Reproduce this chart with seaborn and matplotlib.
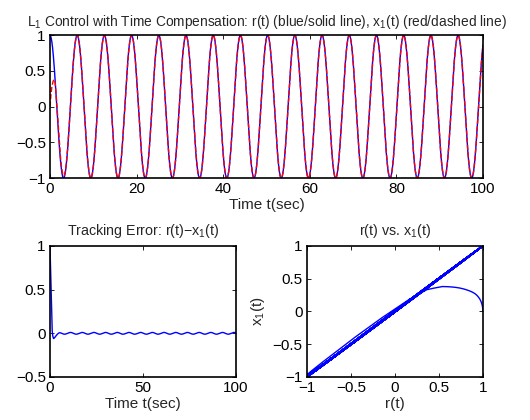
import matplotlib
matplotlib.use("Agg")
import matplotlib.pyplot as plt
import numpy as np
import pandas as pd
import seaborn as sns

# time grid of the simulation (s) and reference signal r(t) = cos(t)
t_end = 100.0
n_samples = 6001
ref_amp = 1.0
ref_omega = 1.0

err_t = [0.0, 0.2, 0.4, 0.6, 0.8, 1.0, 1.2, 1.4, 1.7, 2.0, 2.5, 3.0, 3.6, 4.2, 5.0]
err_v = [1.0, 0.83, 0.66, 0.50, 0.33, 0.16, 0.03, -0.02, -0.05, -0.06, -0.05, -0.035, -0.02, -0.008, 0.0]
ripple_amp = 0.01

t = np.linspace(0, t_end, n_samples)
r = ref_amp * np.cos(ref_omega * t)
err = np.interp(t, err_t, err_v) - ripple_amp * np.sin(t) * np.clip((t - 3.0) / 3.0, 0, 1)
x1 = r - err

df = pd.DataFrame({"t": t, "r": r, "x1": x1, "err": err})

sns.set_theme(style="ticks")
plt.rcParams["font.family"] = ["Liberation Sans", "DejaVu Sans"]
plt.rcParams["mathtext.default"] = "regular"
plt.rcParams["axes.unicode_minus"] = True
fs_tick = 11
fs_label = 11
fs_title = 10.3

fig = plt.figure(figsize=(5.3, 4.2), dpi=100)
ax1 = fig.add_axes([0.0943, 0.576, 0.817, 0.340])
ax2 = fig.add_axes([0.0943, 0.1024, 0.351, 0.312])
ax3 = fig.add_axes([0.579, 0.1024, 0.332, 0.312])

sns.lineplot(data=df, x="t", y="r", ax=ax1, color="blue", lw=1.0, estimator=None)
sns.lineplot(data=df, x="t", y="x1", ax=ax1, color="red", lw=1.0, estimator=None,
             dashes=False, linestyle="--")
ax1.set_xlim(0, 100)
ax1.set_ylim(-1, 1)
ax1.set_xticks(np.arange(0, 101, 20))
ax1.set_yticks([-1, -0.5, 0, 0.5, 1])
ax1.set_yticklabels(["−1", "−0.5", "0", "0.5", "1"])
ax1.set_xlabel("Time t(sec)", fontsize=fs_label, labelpad=1)
ax1.set_ylabel("")
ax1.set_title("L$_1$ Control with Time Compensation: r(t) (blue/solid line), "
              "x$_1$(t) (red/dashed line)", fontsize=9.9, pad=7)

sns.lineplot(data=df, x="t", y="err", ax=ax2, color="blue", lw=1.0, estimator=None)
ax2.set_xlim(0, 100)
ax2.set_ylim(-0.5, 1)
ax2.set_xticks([0, 50, 100])
ax2.set_yticks([-0.5, 0, 0.5, 1])
ax2.set_yticklabels(["−0.5", "0", "0.5", "1"])
ax2.set_xlabel("Time t(sec)", fontsize=fs_label, labelpad=1)
ax2.set_ylabel("")
ax2.set_title("Tracking Error: r(t)−x$_1$(t)", fontsize=fs_title, pad=8)

sns.lineplot(data=df, x="r", y="x1", ax=ax3, color="blue", lw=1.0, estimator=None, sort=False)
ax3.set_xlim(-1, 1)
ax3.set_ylim(-1, 1)
ticks = [-1, -0.5, 0, 0.5, 1]
labels = ["−1", "−0.5", "0", "0.5", "1"]
ax3.set_xticks(ticks)
ax3.set_xticklabels(labels)
ax3.set_yticks(ticks)
ax3.set_yticklabels(labels)
ax3.set_xlabel("r(t)", fontsize=fs_label, labelpad=1)
ax3.set_ylabel("x$_1$(t)", fontsize=fs_label, labelpad=4)
ax3.set_title("r(t) vs. x$_1$(t)", fontsize=fs_title, pad=8)

for ax in (ax1, ax2, ax3):
    ax.tick_params(direction="in", top=True, right=True, length=3, width=0.6,
                   labelsize=fs_tick, pad=3, colors="black")
    for sp in ax.spines.values():
        sp.set_visible(True)
        sp.set_linewidth(1.2)
        sp.set_color("black")
    ax.grid(False)
    ax.set_facecolor("white")

fig.savefig("out.png", dpi=100, facecolor="white")
